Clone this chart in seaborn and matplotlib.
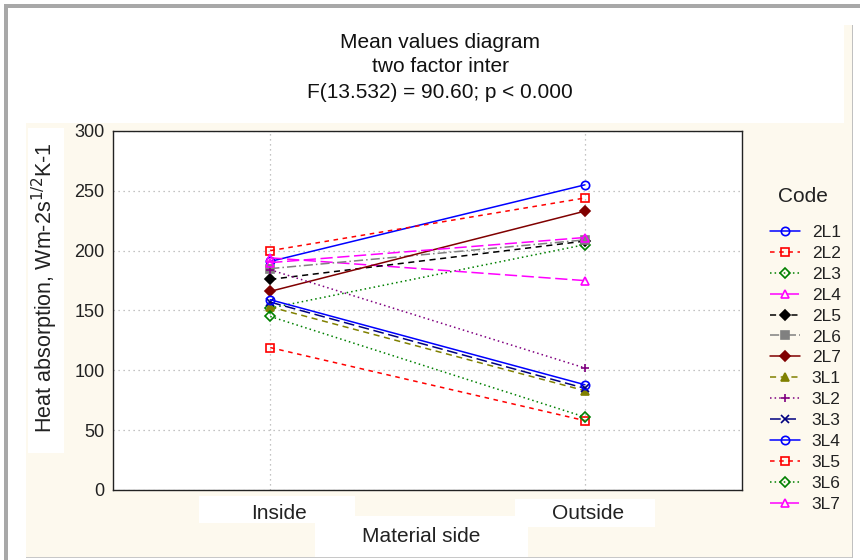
import numpy as np
import pandas as pd
import matplotlib
matplotlib.use("Agg")
import matplotlib.pyplot as plt
import seaborn as sns
from matplotlib.patches import Rectangle
from matplotlib.transforms import ScaledTranslation

# data
sides = ["Inside", "Outside"]
codes = ["2L1", "2L2", "2L3", "2L4", "2L5", "2L6", "2L7",
         "3L1", "3L2", "3L3", "3L4", "3L5", "3L6", "3L7"]
inside_vals = [191, 200, 152, 194, 176, 185, 166, 153, 184, 157, 159, 119, 145, 190]
outside_vals = [255, 244, 205, 175, 208, 209, 233, 83, 102, 85, 88, 58, 61, 211]

colors = ["#0000ff", "#ff0000", "#008000", "#ff00ff", "#000000", "#808080", "#800000",
          "#808000", "#800080", "#000080", "#0000ff", "#ff0000", "#008000", "#ff00ff"]
markers = ["o", "s", "D", "^", "D", "s", "D", "^", "+", "x", "o", "s", "D", "^"]
filled = [False, False, False, False, True, True, True,
          True, True, True, False, False, False, False]
dashes = ["-", (0, (3, 3)), (0, (1, 2)), (0, (8, 3)), (0, (4, 3)), (0, (6, 2, 1, 2)), "-",
          (0, (4, 3)), (0, (1, 2)), (0, (7, 3)), "-", (0, (3, 3)), (0, (1, 2)), (0, (8, 3))]

df = pd.DataFrame({
    "Code": np.repeat(codes, 2),
    "side": sides * len(codes),
    "value": np.ravel(np.column_stack([inside_vals, outside_vals])),
})

sns.set_style("white")
plt.rcParams["font.family"] = ["Liberation Sans", "DejaVu Sans"]

W, H = 860, 560
fig = plt.figure(figsize=(8.6, 5.6), dpi=100, facecolor="white")

def px_rect(x0, y0, x1, y1, **kw):
    # rectangle given in pixel coords (origin top-left)
    fig.patches.append(Rectangle((x0 / W, 1 - y1 / H), (x1 - x0) / W, (y1 - y0) / H,
                                 transform=fig.transFigure, zorder=-5, **kw))

cream = "#fdf9ee"
px_rect(26, 123, 852, 558, facecolor=cream, edgecolor="none")
px_rect(844, 25, 852, 123, facecolor=cream, edgecolor="none")
px_rect(4, 4, 860, 8, facecolor="#a8a8a8", edgecolor="none")
px_rect(4, 4, 8, 560, facecolor="#a8a8a8", edgecolor="none")
px_rect(852, 25, 853, 558, facecolor="#c0c0c0", edgecolor="none")
px_rect(26, 557, 852, 558, facecolor="#c8c8c8", edgecolor="none")
# white label boxes
px_rect(28, 128, 64, 453, facecolor="white", edgecolor="none")
px_rect(199, 496, 355, 523, facecolor="white", edgecolor="none")
px_rect(315, 516, 528, 557, facecolor="white", edgecolor="none")
px_rect(515, 499, 655, 527, facecolor="white", edgecolor="none")

ax = fig.add_axes([113 / W, 1 - 490 / H, (742 - 113) / W, (490 - 131) / H])
ax.set_facecolor("white")

for i, c in enumerate(codes):
    sub = df[df["Code"] == c]
    sns.lineplot(data=sub, x="side", y="value", ax=ax, label=c,
                 color=colors[i], linestyle=dashes[i], linewidth=1.1,
                 marker=markers[i], markersize=6 if markers[i] != "D" else 5,
                 markerfacecolor=colors[i] if filled[i] else "none",
                 markeredgecolor=colors[i], markeredgewidth=1.2)

ax.set_xlim(-0.5, 1.5)
ax.set_ylim(0, 300)
ax.set_yticks(range(0, 301, 50))
ax.set_xticks([0, 1])
ax.set_xticklabels(sides)
ax.grid(True, color="#b0b0b0", linestyle=(0, (1, 3)), linewidth=0.9)
ax.tick_params(axis="both", length=0, colors="#222222")
ax.tick_params(axis="x", labelsize=15, pad=10)
ax.tick_params(axis="y", labelsize=13, pad=6)
for lab, dx in zip(ax.get_xticklabels(), [9, 3]):
    lab.set_transform(lab.get_transform() + ScaledTranslation(dx / 100, 0, fig.dpi_scale_trans))
for s in ax.spines.values():
    s.set_color("#222222")
    s.set_linewidth(1.0)

ax.set_xlabel("Material side", fontsize=15, color="#222222")
ax.xaxis.set_label_coords((421 - 113) / 629, -(537 - 490) / 359)
ax.xaxis.label.set_va("center")
ax.set_ylabel("Heat absorption, Wm-2s$^{1/2}$K-1", fontsize=15.5, color="#222222")
ax.yaxis.set_label_coords((45 - 113) / 629, (490 - 288) / 359)
ax.yaxis.label.set_va("center")

for ty, line in zip([42, 67, 92], ["Mean values diagram", "two factor inter",
                                   "F(13.532) = 90.60; p < 0.000"]):
    fig.text(440 / W, 1 - ty / H, line, ha="center", va="center", fontsize=15, color="#111111")

fig.text(803 / W, 1 - 196 / H, "Code", ha="center", va="center", fontsize=15, color="#222222")

leg = ax.legend(loc="upper left", bbox_to_anchor=(770 / W, 1 - 225 / H), bbox_transform=fig.transFigure,
                frameon=False, fontsize=12.5, borderpad=0, borderaxespad=0,
                handlelength=1.7, handletextpad=0.7, labelspacing=0.33)
for t in leg.get_texts():
    t.set_color("#222222")

fig.savefig("out.png", dpi=100, facecolor="white")
